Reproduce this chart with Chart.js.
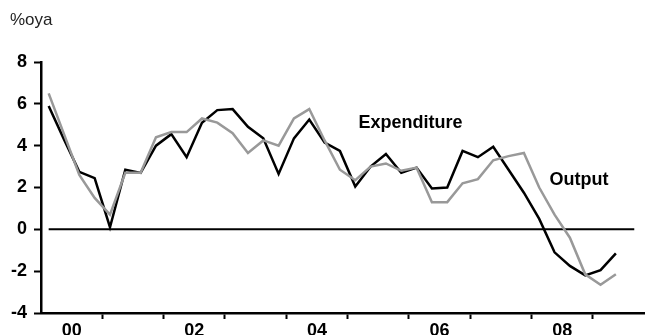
<!DOCTYPE html>
<html>
<head>
<meta charset="utf-8">
<script src="https://cdn.jsdelivr.net/npm/chart.js@4/dist/chart.umd.min.js"></script>
<style>
  body { margin: 0; background: #fff; }
  #wrap { width: 645px; height: 335px; position: relative; }
</style>
</head>
<body>
<div id="wrap"><canvas id="chart"></canvas></div>
<script>
// quarterly, 2000Q1 .. 2009Q2, % over year ago
const quarters = [];
for (let y = 2000; y <= 2009; y++) {
    for (let q = 1; q <= 4; q++) quarters.push(y + "Q" + q);
}
quarters.length = 38;

const expenditure = [5.9, 4.3, 2.75, 2.45, 0.1, 2.85, 2.7, 4.0, 4.55, 3.45,
    5.1, 5.7, 5.75, 4.9, 4.35, 2.65, 4.35, 5.25, 4.15, 3.75,
    2.05, 3.0, 3.6, 2.7, 2.95, 1.95, 2.0, 3.75, 3.45, 3.95,
    2.85, 1.75, 0.5, -1.1, -1.75, -2.2, -1.95, -1.15];

const output = [6.5, 4.55, 2.6, 1.5, 0.7, 2.7, 2.7, 4.4, 4.65, 4.65,
    5.3, 5.1, 4.6, 3.65, 4.25, 4.0, 5.3, 5.75, 4.25, 2.85,
    2.35, 3.0, 3.15, 2.8, 2.95, 1.3, 1.3, 2.2, 2.4, 3.3,
    3.5, 3.65, 2.0, 0.7, -0.4, -2.15, -2.65, -2.15];

const xTickLabels = ["00", "02", "04", "06", "08"];
const yTicks = [-4, -2, 0, 2, 4, 6, 8];

const FONT = "'Liberation Sans', Arial, sans-serif";
Chart.defaults.font.family = FONT;
Chart.defaults.color = "#000";

function toPoints(arr) {
    return arr.map((v, i) => ({ x: i, y: v }));
}

// zero line + series labels
const annotate = {
    id: "annotate",
    beforeDatasetsDraw(chart) {
        const c = chart.ctx, xs = chart.scales.x, ys = chart.scales.y;
        const y0 = ys.getPixelForValue(0);
        c.save();
        c.strokeStyle = "#000";
        c.lineWidth = 2;
        c.beginPath();
        c.moveTo(xs.getPixelForValue(0), y0);
        c.lineTo(xs.getPixelForValue(38.2), y0);
        c.stroke();
        c.restore();
    },
    afterDraw(chart) {
        const c = chart.ctx, xs = chart.scales.x, ys = chart.scales.y;
        c.save();
        c.fillStyle = "#000";
        c.textAlign = "center";
        c.textBaseline = "middle";
        c.font = "bold 18px " + FONT;
        c.fillText("Expenditure", xs.getPixelForValue(23.6), ys.getPixelForValue(5.1));
        c.fillText("Output", xs.getPixelForValue(34.6), ys.getPixelForValue(2.37));
        c.textAlign = "left";
        c.textBaseline = "alphabetic";
        c.font = "17px " + FONT;
        c.fillStyle = "#222";
        c.fillText("%oya", 10, 25);
        c.restore();
    }
};

const ctx = document.getElementById("chart");
const chart = new Chart(ctx, {
    type: "line",
    data: {
        datasets: [
            {
                label: "Output",
                data: toPoints(output),
                borderColor: "#999999",
                borderWidth: 2.5,
                pointRadius: 0,
                tension: 0
            },
            {
                label: "Expenditure",
                data: toPoints(expenditure),
                borderColor: "#000000",
                borderWidth: 2.5,
                pointRadius: 0,
                tension: 0
            }
        ]
    },
    options: {
        responsive: true,
        maintainAspectRatio: false,
        animation: false,
        layout: { padding: { top: 62, right: 0, left: 0, bottom: 0 } },
        plugins: {
            legend: { display: false },
            tooltip: { enabled: false }
        },
        scales: {
            x: {
                type: "linear",
                min: -0.5,
                max: 38.9,
                afterBuildTicks(scale) {
                    const t = [];
                    for (let v = -0.5; v <= 37.5; v += 2) t.push({ value: v });
                    scale.ticks = t;
                },
                afterFit(scale) { scale.height = 22; },
                ticks: {
                    autoSkip: false,
                    maxRotation: 0,
                    padding: 1,
                    font: { size: 18, weight: "bold" },
                    callback(v) {
                        const m = (v - 1.5) / 4;
                        if (Number.isInteger(m) && m % 2 === 0) return xTickLabels[m / 2] || "";
                        return "";
                    }
                },
                grid: {
                    drawOnChartArea: false,
                    drawTicks: true,
                    tickLength: 6,
                    tickWidth: 2,
                    tickColor(c) {
                        const m = (c.tick.value + 0.5) / 4;
                        return Number.isInteger(m) && c.tick.value > 0 ? "#000" : "rgba(0,0,0,0)";
                    }
                },
                border: { color: "#000", width: 2.5 }
            },
            y: {
                min: -4,
                max: 8,
                afterBuildTicks(scale) {
                    scale.ticks = yTicks.map(v => ({ value: v }));
                },
                afterFit(scale) { scale.width = 41; },
                ticks: {
                    padding: 7,
                    font: { size: 18, weight: "bold" }
                },
                grid: {
                    drawOnChartArea: false,
                    drawTicks: true,
                    tickLength: 7,
                    tickWidth: 2,
                    tickColor: "#000"
                },
                border: { color: "#000", width: 2.5 }
            }
        }
    },
    plugins: [annotate]
});
</script>
</body>
</html>
